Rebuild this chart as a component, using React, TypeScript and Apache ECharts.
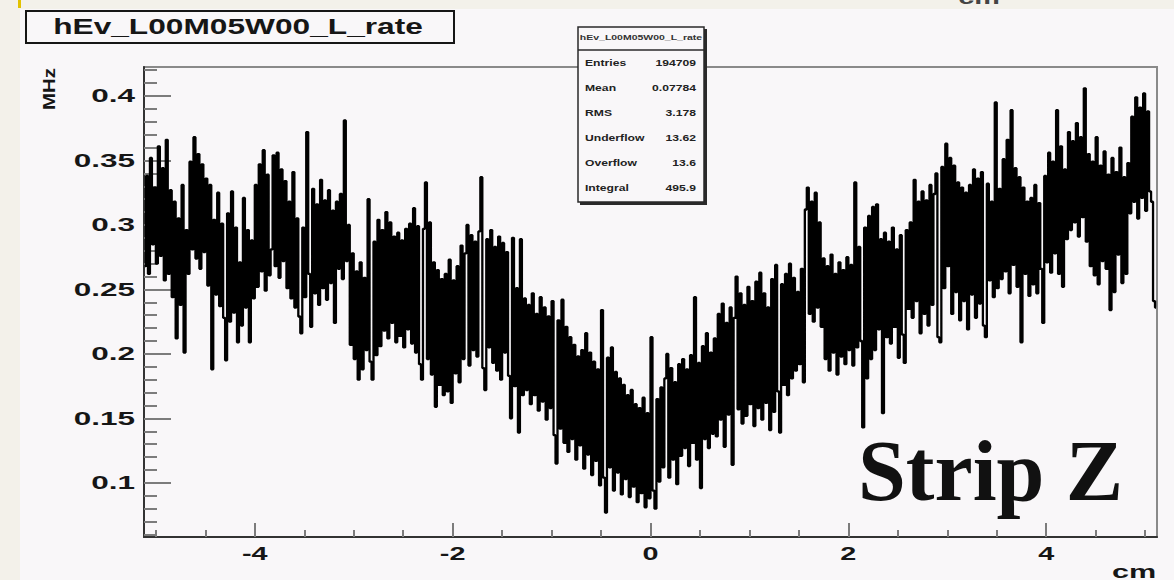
import { useEffect, useRef } from "react";
import * as echarts from "echarts";

// Histogram binning (cm) and vertical range (MHz)
const X_MIN = -5.12;
const X_MAX = 5.12;
const BIN_WIDTH = 0.02;
const Y_MIN = 0.058;
const Y_MAX = 0.4225;

const xMajorTicks = [-4, -2, 0, 2, 4];
const xMinorTicks = [-5, -4.5, -3.5, -3, -2.5, -1.5, -1, -0.5, 0.5, 1, 1.5, 2.5, 3, 3.5, 4.5, 5];
const yMajorTicks = [0.1, 0.15, 0.2, 0.25, 0.3, 0.35, 0.4];
const yMinorTicks = [
  0.06, 0.07, 0.08, 0.09, 0.11, 0.12, 0.13, 0.14, 0.16, 0.17, 0.18, 0.19, 0.21, 0.22, 0.23,
  0.24, 0.26, 0.27, 0.28, 0.29, 0.31, 0.32, 0.33, 0.34, 0.36, 0.37, 0.38, 0.39, 0.41, 0.42,
];

const histName = "hEv_L00M05W00_L_rate";
const statNames = ["Entries", "Mean", "RMS", "Underflow", "Overflow", "Integral"];
const statValues = ["194709", "0.07784", "3.178", "13.62", "13.6", "495.9"];

// Rate per bin, 64 bins (1.28 cm) per block, left to right
const rateSeg0 = [
  0.268, 0.338, 0.262, 0.352, 0.285, 0.329, 0.27, 0.361,
  0.276, 0.344, 0.257, 0.366, 0.262, 0.327, 0.244, 0.318,
  0.212, 0.305, 0.238, 0.331, 0.201, 0.296, 0.262, 0.349,
  0.281, 0.368, 0.274, 0.355, 0.266, 0.347, 0.279, 0.336,
  0.253, 0.331, 0.188, 0.304, 0.246, 0.325, 0.237, 0.301,
  0.228, 0.195, 0.309, 0.225, 0.326, 0.232, 0.298, 0.209,
  0.271, 0.222, 0.321, 0.236, 0.296, 0.209, 0.288, 0.243,
  0.331, 0.252, 0.347, 0.264, 0.358, 0.249, 0.339, 0.261,
];
const rateSeg1 = [
  0.281, 0.354, 0.268, 0.356, 0.259, 0.343, 0.272, 0.334,
  0.251, 0.318, 0.243, 0.341, 0.236, 0.305, 0.229, 0.216,
  0.298, 0.244, 0.372, 0.262, 0.221, 0.328, 0.247, 0.316,
  0.238, 0.335, 0.251, 0.319, 0.242, 0.327, 0.255, 0.311,
  0.224, 0.318, 0.266, 0.324, 0.258, 0.381, 0.272, 0.3,
  0.207, 0.278, 0.196, 0.264, 0.18, 0.271, 0.188, 0.259,
  0.203, 0.32, 0.194, 0.18, 0.287, 0.199, 0.304, 0.206,
  0.296, 0.218, 0.31, 0.212, 0.302, 0.224, 0.291, 0.209,
];
const rateSeg2 = [
  0.294, 0.214, 0.288, 0.205, 0.297, 0.219, 0.301, 0.208,
  0.313, 0.201, 0.299, 0.192, 0.18, 0.297, 0.333, 0.196,
  0.302, 0.184, 0.271, 0.159, 0.265, 0.176, 0.258, 0.168,
  0.262, 0.171, 0.273, 0.162, 0.257, 0.185, 0.268, 0.178,
  0.284, 0.196, 0.278, 0.3, 0.191, 0.292, 0.203, 0.287,
  0.198, 0.295, 0.337, 0.189, 0.172, 0.289, 0.205, 0.296,
  0.193, 0.283, 0.187, 0.291, 0.18, 0.286, 0.201, 0.279,
  0.183, 0.15, 0.29, 0.175, 0.251, 0.139, 0.289, 0.168,
];
const rateSeg3 = [
  0.243, 0.172, 0.238, 0.161, 0.247, 0.168, 0.231, 0.156,
  0.244, 0.163, 0.236, 0.149, 0.229, 0.158, 0.241, 0.137,
  0.115, 0.226, 0.142, 0.242, 0.131, 0.221, 0.124, 0.213,
  0.134, 0.207, 0.118, 0.198, 0.129, 0.203, 0.111, 0.216,
  0.122, 0.201, 0.106, 0.194, 0.117, 0.188, 0.098, 0.234,
  0.104, 0.077, 0.197, 0.112, 0.205, 0.094, 0.186, 0.108,
  0.181, 0.091, 0.176, 0.103, 0.168, 0.089, 0.172, 0.097,
  0.161, 0.085, 0.158, 0.092, 0.166, 0.081, 0.154, 0.088,
];
const rateSeg4 = [
  0.213, 0.094, 0.08, 0.165, 0.101, 0.174, 0.112, 0.181,
  0.2, 0.104, 0.189, 0.118, 0.178, 0.099, 0.192, 0.121,
  0.196, 0.127, 0.188, 0.113, 0.199, 0.131, 0.244, 0.118,
  0.193, 0.096, 0.206, 0.134, 0.216, 0.127, 0.201, 0.138,
  0.212, 0.136, 0.231, 0.149, 0.239, 0.128, 0.224, 0.153,
  0.236, 0.114, 0.228, 0.26, 0.157, 0.247, 0.146, 0.238,
  0.152, 0.252, 0.161, 0.241, 0.144, 0.256, 0.158, 0.263,
  0.149, 0.247, 0.162, 0.236, 0.141, 0.258, 0.155, 0.269,
];
const rateSeg5 = [
  0.171, 0.139, 0.254, 0.176, 0.262, 0.168, 0.27, 0.181,
  0.259, 0.187, 0.248, 0.192, 0.266, 0.178, 0.312, 0.329,
  0.231, 0.318, 0.225, 0.325, 0.236, 0.302, 0.221, 0.274,
  0.196, 0.268, 0.187, 0.277, 0.201, 0.262, 0.184, 0.271,
  0.198, 0.265, 0.192, 0.275, 0.203, 0.269, 0.191, 0.333,
  0.205, 0.283, 0.21, 0.143, 0.298, 0.181, 0.307, 0.196,
  0.314, 0.203, 0.316, 0.219, 0.289, 0.154, 0.294, 0.213,
  0.287, 0.208, 0.298, 0.221, 0.281, 0.197, 0.292, 0.215,
];
const rateSeg6 = [
  0.193, 0.296, 0.235, 0.302, 0.228, 0.335, 0.241, 0.318,
  0.216, 0.326, 0.231, 0.319, 0.222, 0.331, 0.238, 0.324,
  0.34, 0.213, 0.209, 0.345, 0.251, 0.363, 0.268, 0.352,
  0.231, 0.346, 0.248, 0.333, 0.226, 0.329, 0.241, 0.325,
  0.219, 0.331, 0.246, 0.343, 0.228, 0.336, 0.239, 0.341,
  0.222, 0.213, 0.332, 0.257, 0.318, 0.244, 0.395, 0.251,
  0.328, 0.258, 0.351, 0.264, 0.366, 0.247, 0.389, 0.269,
  0.344, 0.252, 0.337, 0.209, 0.329, 0.262, 0.318, 0.245,
];
const rateSeg7 = [
  0.321, 0.254, 0.331, 0.247, 0.317, 0.266, 0.224, 0.338,
  0.271, 0.356, 0.263, 0.349, 0.278, 0.389, 0.262, 0.361,
  0.252, 0.343, 0.289, 0.372, 0.296, 0.365, 0.302, 0.379,
  0.291, 0.368, 0.306, 0.406, 0.287, 0.355, 0.268, 0.349,
  0.261, 0.368, 0.254, 0.346, 0.272, 0.357, 0.266, 0.339,
  0.234, 0.352, 0.248, 0.341, 0.277, 0.36, 0.255, 0.337,
  0.262, 0.348, 0.309, 0.384, 0.318, 0.399, 0.305, 0.391,
  0.321, 0.402, 0.311, 0.388, 0.326, 0.318, 0.241, 0.236,
];

const rates = [
  ...rateSeg0, ...rateSeg1, ...rateSeg2, ...rateSeg3,
  ...rateSeg4, ...rateSeg5, ...rateSeg6, ...rateSeg7,
];
const histData = rates.map((v, i) => [X_MIN + BIN_WIDTH * (i + 0.5), v]);

const PAD = "#f9f7f9";
const CREAM = "#f3f1ea";
const INK = "#161616";
const SANS = '"Liberation Sans", Arial, Helvetica, sans-serif';

export default function App() {
  const ref = useRef<HTMLDivElement>(null);

  useEffect(() => {
    if (!ref.current) return;
    const chart = echarts.init(ref.current, undefined, { renderer: "svg" });

    const tickStyle = { color: "#7c7c7c", width: 2 };
    chart.setOption({
      animation: false,
      backgroundColor: PAD,
      grid: {
        left: 144,
        top: 67,
        width: 1013,
        height: 470,
        show: true,
        borderColor: "#8a8a8a",
        borderWidth: 2,
        backgroundColor: "transparent",
      },
      xAxis: [
        {
          type: "value",
          min: X_MIN,
          max: X_MAX,
          axisLine: { show: true, onZero: false, lineStyle: { color: "#333", width: 2 } },
          axisTick: { show: true, inside: true, length: 14, customValues: xMajorTicks, lineStyle: tickStyle },
          axisLabel: { show: false },
          splitLine: { show: false },
        },
        {
          type: "value",
          min: X_MIN,
          max: X_MAX,
          position: "bottom",
          axisLine: { show: false, onZero: false },
          axisTick: { show: true, inside: true, length: 7, customValues: xMinorTicks, lineStyle: tickStyle },
          axisLabel: { show: false },
          splitLine: { show: false },
        },
      ],
      yAxis: [
        {
          type: "value",
          min: Y_MIN,
          max: Y_MAX,
          axisLine: { show: true, onZero: false, lineStyle: { color: "#333", width: 2 } },
          axisTick: { show: true, inside: true, length: 27, customValues: yMajorTicks, lineStyle: tickStyle },
          axisLabel: { show: false },
          splitLine: { show: false },
        },
        {
          type: "value",
          min: Y_MIN,
          max: Y_MAX,
          position: "left",
          axisLine: { show: false, onZero: false },
          axisTick: { show: true, inside: true, length: 13, customValues: yMinorTicks, lineStyle: tickStyle },
          axisLabel: { show: false },
          splitLine: { show: false },
        },
      ],
      series: [
        {
          type: "line",
          name: histName,
          xAxisIndex: 0,
          yAxisIndex: 0,
          step: "middle",
          showSymbol: false,
          clip: true,
          lineStyle: { color: "#000", width: 2.3 },
          data: histData,
        },
      ],
    });

    const els: any[] = [];
    // page edges
    els.push({ type: "rect", shape: { x: 0, y: 0, width: 20, height: 580 }, style: { fill: CREAM } });
    els.push({ type: "rect", shape: { x: 0, y: 0, width: 1174, height: 9 }, style: { fill: CREAM } });
    els.push({ type: "rect", shape: { x: 18, y: 0, width: 3, height: 8 }, style: { fill: "#e2c200" } });
    els.push({
      type: "text", x: 979, y: 7, scaleX: 1.6,
      style: { text: "cm", font: `bold 18px ${SANS}`, fill: "#444", textAlign: "center", textVerticalAlign: "bottom" },
    });

    // title box
    els.push({
      type: "rect", shape: { x: 26, y: 11, width: 428, height: 32 },
      style: { fill: PAD, stroke: INK, lineWidth: 2 },
    });
    els.push({
      type: "text", x: 238, y: 26, scaleX: 1.44,
      style: { text: histName, font: `bold 22px ${SANS}`, fill: INK, textAlign: "center", textVerticalAlign: "middle" },
    });

    // statistics box
    els.push({ type: "rect", shape: { x: 580, y: 29, width: 127, height: 176 }, style: { fill: "#2a2a2a" } });
    els.push({
      type: "rect", shape: { x: 578, y: 27, width: 126, height: 175 },
      style: { fill: PAD, stroke: "#2a2a2a", lineWidth: 1.5 },
    });
    els.push({ type: "line", shape: { x1: 578, y1: 50, x2: 704, y2: 50 }, style: { stroke: "#2a2a2a", lineWidth: 1.5 } });
    els.push({
      type: "text", x: 641, y: 38, scaleX: 1.5,
      style: { text: histName, font: `bold 7px ${SANS}`, fill: "#333", textAlign: "center", textVerticalAlign: "middle" },
    });
    statNames.forEach((name, i) => {
      const y = 63 + 25 * i;
      els.push({
        type: "text", x: 585, y, scaleX: 1.35,
        style: { text: name, font: `bold 9px ${SANS}`, fill: "#222", textAlign: "left", textVerticalAlign: "middle" },
      });
      els.push({
        type: "text", x: 696, y, scaleX: 1.35,
        style: { text: statValues[i], font: `bold 9px ${SANS}`, fill: "#222", textAlign: "right", textVerticalAlign: "middle" },
      });
    });

    // tick labels placed through the axis scales
    yMajorTicks.forEach((v) => {
      const py = chart.convertToPixel({ yAxisIndex: 0 }, v) as number;
      els.push({
        type: "text", x: 135, y: py, scaleX: 1.75,
        style: { text: String(v), font: `bold 18px ${SANS}`, fill: INK, textAlign: "right", textVerticalAlign: "middle" },
      });
    });
    xMajorTicks.forEach((v) => {
      const px = chart.convertToPixel({ xAxisIndex: 0 }, v) as number;
      els.push({
        type: "text", x: px, y: 554, scaleX: 1.6,
        style: { text: String(v), font: `bold 18px ${SANS}`, fill: INK, textAlign: "center", textVerticalAlign: "middle" },
      });
    });

    // axis titles
    els.push({
      type: "text", x: 49, y: 89, rotation: Math.PI / 2, scaleX: 1.2,
      style: { text: "MHz", font: `bold 17px ${SANS}`, fill: INK, textAlign: "center", textVerticalAlign: "middle" },
    });
    els.push({
      type: "text", x: 1134, y: 572, scaleX: 1.7,
      style: { text: "cm", font: `bold 18px ${SANS}`, fill: INK, textAlign: "center", textVerticalAlign: "middle" },
    });

    // overlay caption
    els.push({
      type: "text", x: 858, y: 471,
      style: {
        text: "Strip Z",
        font: `bold 86px "Liberation Serif", "DejaVu Serif", serif`,
        fill: "#111",
        textAlign: "left",
        textVerticalAlign: "middle",
      },
    });

    chart.setOption({ graphic: { elements: els.map((e) => ({ z: 100, ...e })) } });

    return () => chart.dispose();
  }, []);

  return (
    <div
      ref={ref}
      style={{ position: "absolute", left: 0, top: 0, width: 1174, height: 580 }}
    />
  );
}
